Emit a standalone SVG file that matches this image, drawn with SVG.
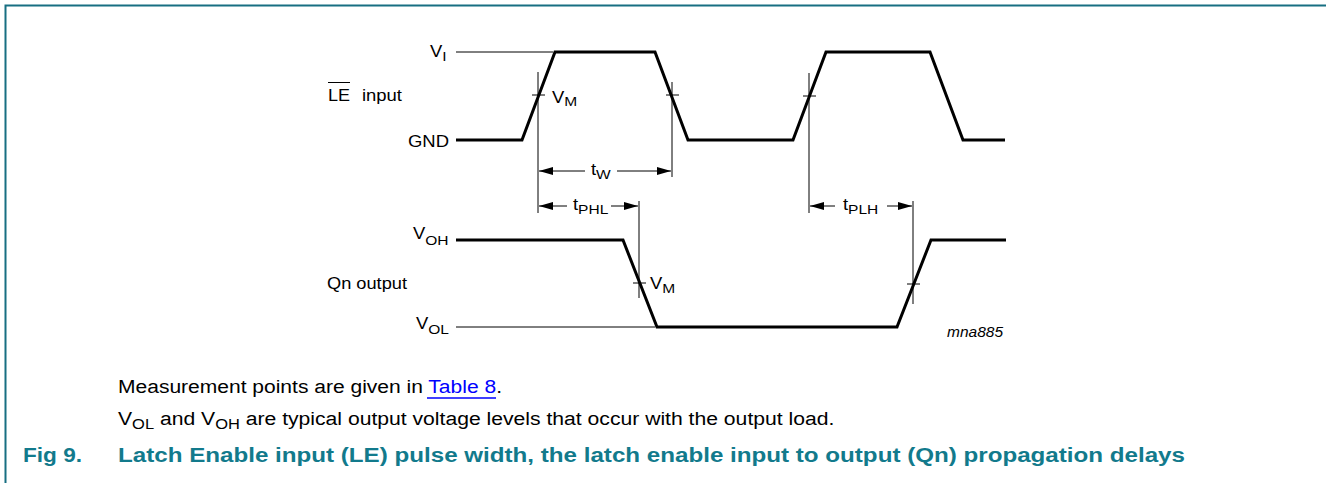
<svg xmlns="http://www.w3.org/2000/svg" width="1326" height="483" viewBox="0 0 1326 483">
<defs>
<style>
.t{font-family:"Liberation Sans",Arial,sans-serif;fill:#000}
.lbl{font-size:16px}
.sub{font-size:13.5px}
.bsub{font-size:14px}
.thick{fill:none;stroke:#000;stroke-width:3;stroke-linejoin:miter}
.thin{fill:none;stroke:#000;stroke-width:1}
.dim{fill:none;stroke:#000;stroke-width:1}
.teal{fill:#127a8c;font-weight:bold;font-size:20px}
</style>
<marker id="ah" viewBox="0 0 14 8" refX="14" refY="4" markerWidth="14" markerHeight="8" markerUnits="userSpaceOnUse" orient="auto-start-reverse">
<path d="M0,0 L14,4 L0,8 z" fill="#000"/>
</marker>
</defs>
<rect width="1326" height="483" fill="#fff"/>
<g id="frame">
<path d="M5.5,483 V5.5 H1326" fill="none" stroke="#176f82" stroke-width="2"/>
</g>
<g id="le-input">
<path class="thin" d="M456,52 H553"/>
<path class="thick" d="M456,140 H522 L555,52 H655 L688,140 H793 L826,52 H930 L963,140 H1005"/>
<text class="t lbl" transform="translate(430,57) scale(1.15,1)">V<tspan class="sub" dy="4">I</tspan></text>
<text class="t lbl" x="328" y="101" textLength="22" lengthAdjust="spacingAndGlyphs">LE</text>
<path class="thin" d="M328,82.5 H350"/>
<text class="t lbl" x="362" y="101" textLength="40" lengthAdjust="spacingAndGlyphs">input</text>
<text class="t lbl" x="408" y="147" textLength="41" lengthAdjust="spacingAndGlyphs">GND</text>
</g>
<g id="qn-output">
<path class="thin" d="M456,327 H655"/>
<path class="thick" d="M456,240 H623 L657,327 H897 L931,240 H1006"/>
<text class="t lbl" transform="translate(413,239) scale(1.15,1)">V<tspan class="sub" dy="6">OH</tspan></text>
<text class="t lbl" transform="translate(416,329) scale(1.15,1)">V<tspan class="sub" dy="5">OL</tspan></text>
<text class="t lbl" x="327" y="289" textLength="80" lengthAdjust="spacingAndGlyphs">Qn output</text>
<text class="t" x="947" y="337" font-size="14" font-style="italic" textLength="56" lengthAdjust="spacingAndGlyphs">mna885</text>
</g>
<g id="connectors">
<path class="dim" d="M538,72 V213 M532,95 H545"/>
<path class="dim" d="M672,82 V177 M666,95 H679"/>
<path class="dim" d="M809,73 V213 M803,96 H816"/>
<path class="dim" d="M639,201 V298 M633,283 H646"/>
<path class="dim" d="M913,201 V304 M907,284 H920"/>
<path class="dim" d="M539,171 H585" marker-start="url(#ah)"/>
<path class="dim" d="M617,171 H671" marker-end="url(#ah)"/>
<path class="dim" d="M539,206 H567" marker-start="url(#ah)"/>
<path class="dim" d="M611,206 H638" marker-end="url(#ah)"/>
<path class="dim" d="M810,206 H835" marker-start="url(#ah)"/>
<path class="dim" d="M887,206 H912" marker-end="url(#ah)"/>
<text class="t lbl" transform="translate(552,103) scale(1.15,1)">V<tspan class="sub" dy="3">M</tspan></text>
<text class="t lbl" transform="translate(650,289) scale(1.15,1)">V<tspan class="sub" dy="4">M</tspan></text>
<text class="t lbl" transform="translate(591,175) scale(1.15,1)">t<tspan class="sub" dy="4">W</tspan></text>
<text class="t lbl" transform="translate(573,210) scale(1.15,1)">t<tspan class="sub" dy="4">PHL</tspan></text>
<text class="t lbl" transform="translate(843,210) scale(1.15,1)">t<tspan class="sub" dy="4">PLH</tspan></text>
</g>
<g id="notes">
<text class="t" x="118" y="393" font-size="18" textLength="384" lengthAdjust="spacingAndGlyphs">Measurement points are given in <tspan fill="#0000ff">Table 8</tspan>.</text>
<path d="M427,398 H496" stroke="#0000ff" stroke-width="1.5"/>
<text class="t" font-size="18" transform="translate(118,425) scale(1.175,1)">V<tspan class="bsub" dy="4">OL</tspan><tspan dy="-4"> and V</tspan><tspan class="bsub" dy="4">OH</tspan><tspan dy="-4"> are typical output voltage levels that occur with the output load.</tspan></text>
<text class="t teal" x="23" y="462" textLength="59" lengthAdjust="spacingAndGlyphs">Fig 9.</text>
<text class="t teal" x="118" y="462" textLength="1067" lengthAdjust="spacingAndGlyphs">Latch Enable input (LE) pulse width, the latch enable input to output (Qn) propagation delays</text>
</g>
</svg>
